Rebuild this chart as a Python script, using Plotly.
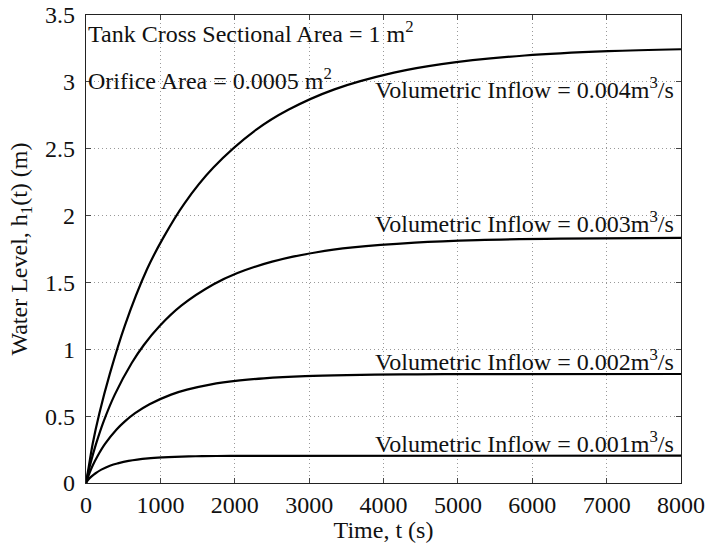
import plotly.graph_objects as go

# Time (s) and water level h1 (m), one series per inflow
t_q004 = [0, 10, 40, 90, 180, 320, 520, 820, 1040, 1320, 1710, 2290, 2720, 3340, 4140, 4780, 5900, 7020, 8000]
h_q004 = [0, 0.033, 0.131, 0.294, 0.522, 0.816, 1.174, 1.598, 1.835, 2.088, 2.357, 2.642, 2.791, 2.944, 3.069, 3.133, 3.197, 3.230, 3.244]

t_q003 = [0, 7, 28, 69, 136, 236, 387, 617, 778, 990, 1281, 1716, 2037, 2503, 3103, 3587, 4422, 5264, 6381, 8000]
h_q003 = [0, 0.018, 0.073, 0.165, 0.294, 0.459, 0.661, 0.899, 1.032, 1.174, 1.326, 1.486, 1.570, 1.656, 1.726, 1.762, 1.798, 1.817, 1.828, 1.833]

t_q002 = [0, 4, 19, 46, 90, 158, 258, 411, 519, 660, 854, 1144, 1358, 1668, 2069, 2391, 2948, 3509, 4254, 4819, 8000]
h_q002 = [0, 0.008, 0.033, 0.073, 0.131, 0.204, 0.294, 0.400, 0.459, 0.522, 0.589, 0.661, 0.698, 0.736, 0.767, 0.783, 0.799, 0.807, 0.812, 0.814, 0.815]

t_q001 = [0, 9, 45, 79, 129, 206, 330, 427, 572, 834, 1034, 1196, 1474, 1755, 2127, 2410, 8000]
h_q001 = [0, 0.008, 0.033, 0.051, 0.073, 0.100, 0.131, 0.147, 0.165, 0.184, 0.192, 0.196, 0.200, 0.202, 0.203, 0.2035, 0.204]

series_labels = ["Volumetric Inflow = 0.004m<sup>3</sup>/s",
                 "Volumetric Inflow = 0.003m<sup>3</sup>/s",
                 "Volumetric Inflow = 0.002m<sup>3</sup>/s",
                 "Volumetric Inflow = 0.001m<sup>3</sup>/s"]
label_y = [2.955, 1.955, 0.92, 0.31]

x_ticks = [0, 1000, 2000, 3000, 4000, 5000, 6000, 7000, 8000]
y_ticks = [0, 0.5, 1, 1.5, 2, 2.5, 3, 3.5]

FONT = "Liberation Serif"
FS = 24
TXT = "#111111"

fig = go.Figure()
for tt, hh in [(t_q004, h_q004), (t_q003, h_q003), (t_q002, h_q002), (t_q001, h_q001)]:
    fig.add_trace(go.Scatter(x=tt, y=hh, mode="lines", line=dict(color="black", width=2.2, shape="spline", smoothing=1.0),
                             showlegend=False, hoverinfo="skip"))

for txt, yy in zip(series_labels, label_y):
    fig.add_annotation(x=7930, y=yy, text=txt, showarrow=False, xanchor="right", yanchor="middle",
                       font=dict(family=FONT, size=FS, color=TXT))

fig.add_annotation(x=5, y=3.375, text="Tank Cross Sectional Area = 1 m<sup>2</sup>", showarrow=False,
                   xanchor="left", yanchor="middle", font=dict(family=FONT, size=FS, color=TXT))
fig.add_annotation(x=5, y=3.02, text="Orifice Area = 0.0005 m<sup>2</sup>", showarrow=False,
                   xanchor="left", yanchor="middle", font=dict(family=FONT, size=FS, color=TXT))

axis_common = dict(showline=True, linecolor="#222222", linewidth=1.3, mirror="ticks", ticks="inside", ticklen=5,
                   tickcolor="#444444", showgrid=True, gridcolor="#999999", gridwidth=1, griddash="1px,3px",
                   zeroline=False, automargin=False, tickfont=dict(family=FONT, size=FS, color=TXT))

fig.update_xaxes(range=[0, 8000], tickvals=x_ticks, ticktext=[str(v) for v in x_ticks], ticklabelstandoff=0,
                 title=dict(text="Time, t (s)", font=dict(family=FONT, size=FS, color=TXT), standoff=5),
                 **axis_common)
fig.update_yaxes(range=[0, 3.5], tickvals=y_ticks, ticktext=[f"{v:g}" for v in y_ticks], ticklabelstandoff=5,
                 title=dict(text="Water Level, h<sub>1</sub>(t) (m)", font=dict(family=FONT, size=FS, color=TXT), standoff=10),
                 **axis_common)

fig.update_layout(width=710, height=543, margin=dict(l=86, r=29, t=15, b=60),
                  paper_bgcolor="white", plot_bgcolor="white", font=dict(family=FONT, size=FS, color=TXT))

fig.write_html("out.html", config={"displayModeBar": False, "staticPlot": True},
               post_script="document.body.style.margin='0';document.body.style.overflow='hidden';")
